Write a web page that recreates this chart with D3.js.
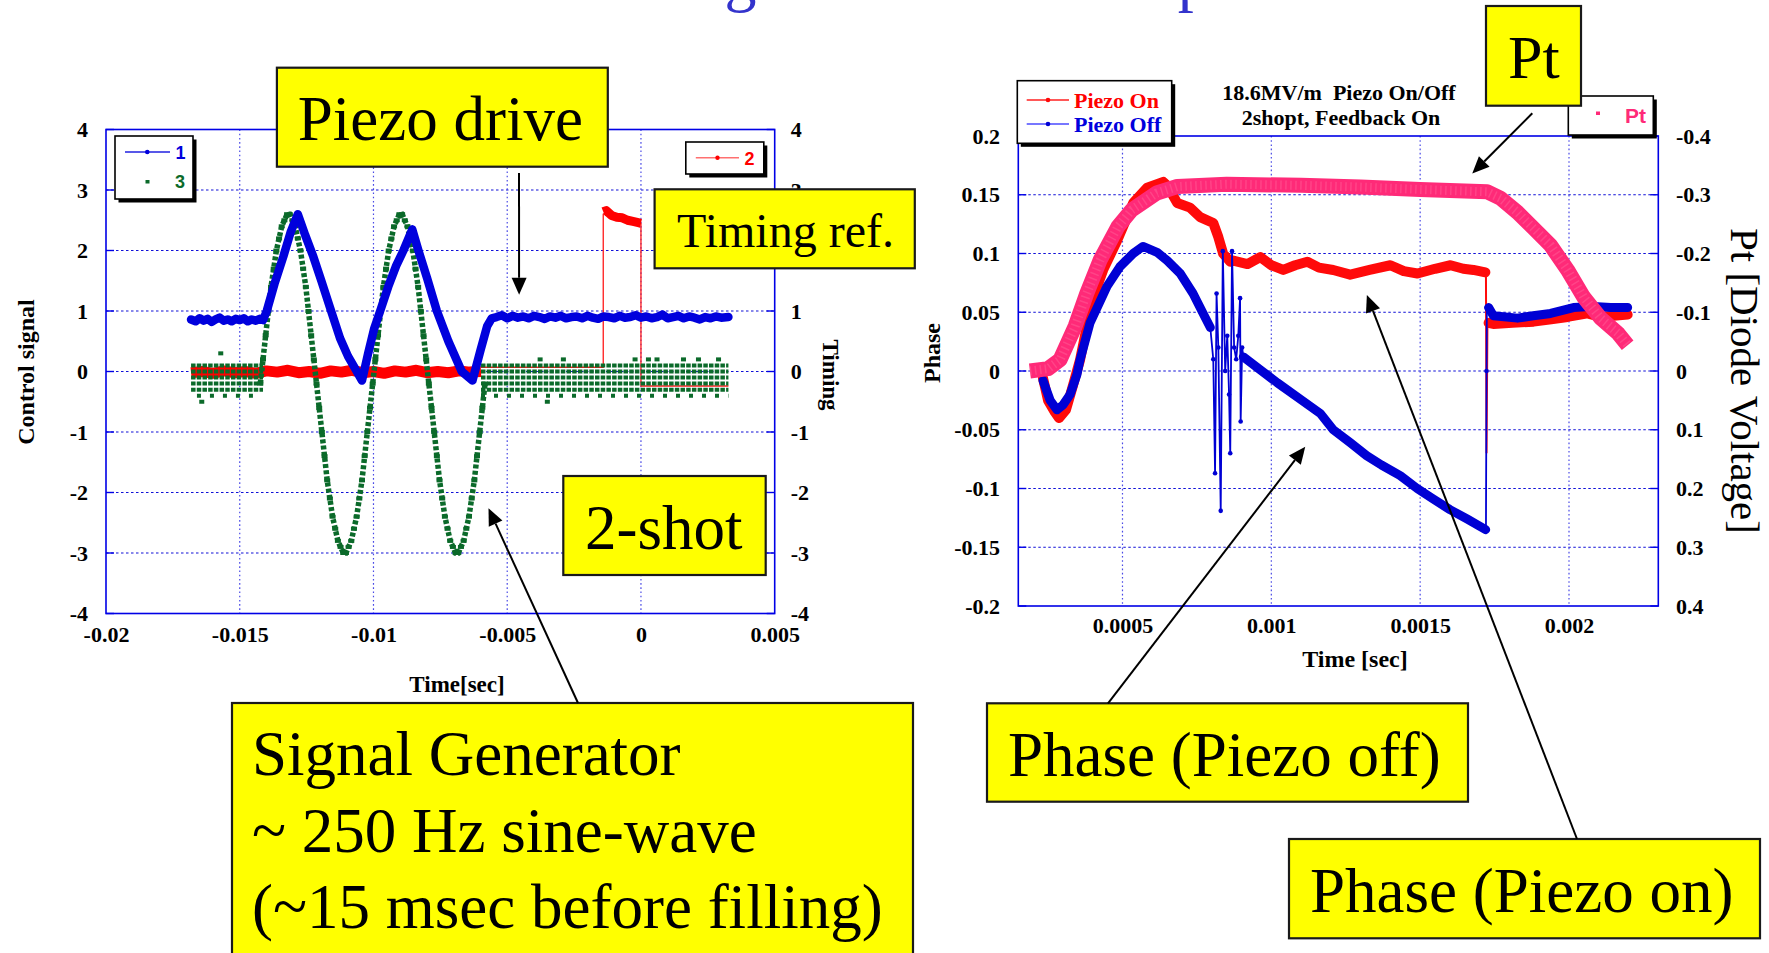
<!DOCTYPE html>
<html>
<head>
<meta charset="utf-8">
<script src="https://cdn.jsdelivr.net/npm/d3@7"></script>
<style>
  html, body { margin: 0; padding: 0; background: #ffffff; }
  svg { display: block; }
</style>
</head>
<body>
<svg id="fig" width="1769" height="953"></svg>
<script>
// ---------------- Left panel: control signals [V] vs time [s] ----------------
const leftXTicks = [-0.02, -0.015, -0.01, -0.005, 0, 0.005];
const leftXLabels = ["-0.02", "-0.015", "-0.01", "-0.005", "0", "0.005"];
const leftYTicks = [4, 3, 2, 1, 0, -1, -2, -3, -4];
const leftYLabels = ["4", "3", "2", "1", "0", "-1", "-2", "-3", "-4"];

// channel 1: piezo drive
const driveSignal = [
  [-0.01682, 0.86], [-0.01665, 0.83], [-0.0165, 0.88], [-0.01635, 0.84], [-0.0162, 0.87],
  [-0.01605, 0.82], [-0.0159, 0.86], [-0.01575, 0.89], [-0.0156, 0.84], [-0.01545, 0.86],
  [-0.0153, 0.83], [-0.01515, 0.87], [-0.015, 0.85], [-0.01485, 0.88], [-0.0147, 0.83],
  [-0.01455, 0.86], [-0.0144, 0.84], [-0.01425, 0.87], [-0.01413, 0.85],
  [-0.01399, 1.0], [-0.0137, 1.45], [-0.01337, 1.9], [-0.0131, 2.3], [-0.01283, 2.6],
  [-0.01255, 2.25], [-0.01225, 1.9], [-0.01195, 1.5], [-0.01162, 1.05], [-0.01125, 0.55],
  [-0.01095, 0.25], [-0.01069, 0.05], [-0.01043, -0.15],
  [-0.0102, 0.3], [-0.00998, 0.7], [-0.00975, 1.0], [-0.00945, 1.4], [-0.00915, 1.75],
  [-0.00888, 2.0], [-0.00855, 2.35],
  [-0.00832, 2.0], [-0.008, 1.55], [-0.00763, 1.0], [-0.0072, 0.5], [-0.0067, 0.0], [-0.0063, -0.15],
  [-0.006, 0.35], [-0.00575, 0.75], [-0.00558, 0.88],
  [-0.0054, 0.9], [-0.0052, 0.93], [-0.005, 0.88], [-0.0048, 0.92], [-0.0046, 0.89],
  [-0.0044, 0.91], [-0.0042, 0.88], [-0.004, 0.92], [-0.0038, 0.9], [-0.0036, 0.87],
  [-0.0034, 0.91], [-0.0032, 0.89], [-0.003, 0.92], [-0.0028, 0.88], [-0.0026, 0.9],
  [-0.0024, 0.91], [-0.0022, 0.88], [-0.002, 0.92], [-0.0018, 0.89], [-0.0016, 0.87],
  [-0.0014, 0.91], [-0.0012, 0.9], [-0.001, 0.88], [-0.0008, 0.92], [-0.0006, 0.89],
  [-0.0004, 0.9], [-0.0002, 0.93], [0, 0.89], [0.0002, 0.91], [0.0004, 0.88],
  [0.0006, 0.9], [0.0008, 0.94], [0.001, 0.88], [0.0012, 0.9], [0.0014, 0.92],
  [0.0016, 0.88], [0.0018, 0.91], [0.002, 0.89], [0.0022, 0.86], [0.0024, 0.9],
  [0.0026, 0.88], [0.0028, 0.91], [0.003, 0.89], [0.00327, 0.9]
];

// channel 2: timing reference (right axis) - noisy baseline, then trigger pulse
const timingBaseline = [
  [-0.01682, -0.02], [-0.0164, 0.0], [-0.016, -0.03], [-0.0156, 0.01], [-0.0152, -0.02],
  [-0.0148, 0.0], [-0.0144, -0.03], [-0.014, 0.01], [-0.0136, -0.01], [-0.0132, 0.02],
  [-0.0128, -0.02], [-0.0124, 0.0], [-0.012, -0.03], [-0.0116, 0.01], [-0.0112, -0.01],
  [-0.0108, 0.02], [-0.0104, -0.02], [-0.01, 0.0], [-0.0096, -0.03], [-0.0092, 0.01],
  [-0.0088, -0.01], [-0.0084, 0.02], [-0.008, -0.02], [-0.0076, 0.0], [-0.0072, -0.02],
  [-0.0068, 0.01], [-0.0064, -0.01], [-0.00598, 0.0]
];
const timingPulse = [
  [-0.00141, 2.64], [-0.0013, 2.66], [-0.0011, 2.58], [-0.0009, 2.55], [-0.0007, 2.54],
  [-0.0005, 2.5], [-0.0003, 2.48], [-0.0001, 2.46], [0.0, 2.45]
];
const timingEdges = [
  [-0.00598, 0.07], [-0.00141, 0.07], [-0.00141, 2.6], [-0.0013, 2.62],
  [-0.0001, 2.46], [0.0, 2.45], [0.0, -0.24], [0.00327, -0.24]
];

// channel 3: signal generator (~250 Hz burst), sampled every 0.1 ms
const generatorWave = [
  [-0.01423, -0.2], [-0.01413, 0.2], [-0.01403, 0.6], [-0.01393, 1.0], [-0.01383, 1.4],
  [-0.01373, 1.7], [-0.01363, 2.0], [-0.01353, 2.2], [-0.01343, 2.4], [-0.01333, 2.5],
  [-0.01323, 2.6], [-0.01313, 2.6], [-0.01303, 2.5], [-0.01293, 2.4], [-0.01283, 2.2],
  [-0.01273, 2.0], [-0.01263, 1.7], [-0.01253, 1.4], [-0.01243, 1.0], [-0.01233, 0.6],
  [-0.01223, 0.2], [-0.01213, -0.2], [-0.01203, -0.6], [-0.01193, -1.0], [-0.01183, -1.4],
  [-0.01173, -1.8], [-0.01163, -2.1], [-0.01153, -2.4], [-0.01143, -2.6], [-0.01133, -2.8],
  [-0.01123, -2.9], [-0.01113, -3.0], [-0.01103, -3.0], [-0.01093, -2.9], [-0.01083, -2.8],
  [-0.01073, -2.6], [-0.01063, -2.4], [-0.01053, -2.1], [-0.01043, -1.8], [-0.01033, -1.4],
  [-0.01023, -1.0], [-0.01013, -0.6], [-0.01003, -0.2], [-0.00993, 0.2], [-0.00983, 0.6],
  [-0.00973, 1.0], [-0.00963, 1.4], [-0.00953, 1.7], [-0.00943, 2.0], [-0.00933, 2.2],
  [-0.00923, 2.4], [-0.00913, 2.5], [-0.00903, 2.6], [-0.00893, 2.6], [-0.00883, 2.5],
  [-0.00873, 2.4], [-0.00863, 2.2], [-0.00853, 2.0], [-0.00843, 1.7], [-0.00833, 1.4],
  [-0.00823, 1.0], [-0.00813, 0.6], [-0.00803, 0.2], [-0.00793, -0.2], [-0.00783, -0.6],
  [-0.00773, -1.0], [-0.00763, -1.4], [-0.00753, -1.8], [-0.00743, -2.1], [-0.00733, -2.4],
  [-0.00723, -2.6], [-0.00713, -2.8], [-0.00703, -2.9], [-0.00693, -3.0], [-0.00683, -3.0],
  [-0.00673, -2.9], [-0.00663, -2.8], [-0.00653, -2.6], [-0.00643, -2.4], [-0.00633, -2.1],
  [-0.00623, -1.8], [-0.00613, -1.4], [-0.00603, -1.0], [-0.00593, -0.6], [-0.00583, -0.2]
];
// channel 3 digitised noise before and after the burst: [level, t start, t end]
const generatorRowsDense = [
  [0.1, -0.01682, -0.01413], [0.0, -0.01682, -0.01413], [-0.1, -0.01682, -0.01413],
  [-0.2, -0.01682, -0.01413], [-0.3, -0.01682, -0.01413],
  [0.1, -0.00598, 0.00327], [0.0, -0.00598, 0.00327], [-0.1, -0.00598, 0.00327],
  [-0.2, -0.00598, 0.00327], [-0.3, -0.00598, 0.00327]
];
const generatorRowsSparse = [
  [-0.4, -0.0166, -0.0145], [-0.4, -0.00598, 0.00327]
];
const generatorStray = [
  [-0.01571, 0.3], [-0.01642, -0.5], [-0.0035, -0.5],
  [-0.00377, 0.2], [-0.0029, 0.2], [-0.00022, 0.2], [0.00028, 0.2],
  [0.0006, 0.2], [0.00159, 0.2], [0.00215, 0.2], [0.0029, 0.2]
];

// ---------------- Right panel: phase / Pt vs time [s] ----------------
const rightXTicks = [0.0005, 0.001, 0.0015, 0.002];
const rightXLabels = ["0.0005", "0.001", "0.0015", "0.002"];
const phaseTicks = [0.2, 0.15, 0.1, 0.05, 0, -0.05, -0.1, -0.15, -0.2];
const phaseLabels = ["0.2", "0.15", "0.1", "0.05", "0", "-0.05", "-0.1", "-0.15", "-0.2"];
const ptTicks = [-0.4, -0.3, -0.2, -0.1, 0, 0.1, 0.2, 0.3, 0.4];
const ptLabels = ["-0.4", "-0.3", "-0.2", "-0.1", "0", "0.1", "0.2", "0.3", "0.4"];

const phaseOn = [
  [0.000233, -0.006], [0.00025, -0.025], [0.000273, -0.035], [0.000287, -0.04], [0.00031, -0.033],
  [0.000334, -0.012], [0.000357, 0.009], [0.000398, 0.06], [0.000435, 0.086], [0.000482, 0.111],
  [0.000536, 0.143], [0.000583, 0.156], [0.000637, 0.161], [0.00065, 0.158], [0.000684, 0.143],
  [0.000727, 0.139], [0.000761, 0.131], [0.000805, 0.126], [0.000822, 0.114], [0.000838, 0.1],
  [0.000862, 0.093], [0.000872, 0.094], [0.00092, 0.091], [0.000963, 0.097], [0.001, 0.09],
  [0.00104, 0.086], [0.00108, 0.09], [0.001121, 0.093], [0.00116, 0.088], [0.001208, 0.086],
  [0.001265, 0.082], [0.00133, 0.086], [0.0014, 0.09], [0.001445, 0.085], [0.001491, 0.083],
  [0.00155, 0.087], [0.001602, 0.09], [0.001645, 0.087], [0.001679, 0.086], [0.001719, 0.084]
];
const phaseOnJump = [[0.001721, 0.084], [0.001723, -0.07], [0.001726, 0.041]];
const phaseOnTail = [
  [0.00173, 0.041], [0.001746, 0.04], [0.00181, 0.041], [0.001881, 0.042], [0.00194, 0.044],
  [0.001995, 0.046], [0.002062, 0.049], [0.002106, 0.046], [0.00215, 0.047], [0.002197, 0.048]
];

const phaseOff = [
  [0.000233, -0.008], [0.000257, -0.025], [0.00028, -0.033], [0.0003, -0.029], [0.000324, -0.02],
  [0.000347, -0.003], [0.000357, 0.009], [0.000391, 0.041], [0.000448, 0.072], [0.000492, 0.089],
  [0.000536, 0.1], [0.000569, 0.106], [0.000616, 0.101], [0.00065, 0.094], [0.000694, 0.083],
  [0.000737, 0.066], [0.000771, 0.049], [0.000795, 0.037]
];
const phaseOffSpikes = [
  [0.000795, 0.037], [0.000805, 0.01], [0.000811, -0.087], [0.000816, 0.066], [0.000822, 0.02],
  [0.00083, -0.119], [0.000837, 0.102], [0.000845, 0.0], [0.000852, 0.03], [0.000858, -0.02],
  [0.000862, -0.07], [0.000868, 0.102], [0.000875, 0.02], [0.000882, 0.01], [0.000889, 0.03],
  [0.000895, 0.062], [0.000897, -0.043], [0.000902, 0.02], [0.000906, 0.012]
];
const phaseOffDecay = [
  [0.000906, 0.012], [0.000963, 0.001], [0.00102, -0.01], [0.001097, -0.024], [0.001164, -0.036],
  [0.001208, -0.05], [0.001265, -0.061], [0.00132, -0.072], [0.00137, -0.08], [0.001433, -0.089],
  [0.00149, -0.1], [0.001544, -0.109], [0.0016, -0.118], [0.001658, -0.126], [0.00172, -0.135]
];
const phaseOffJump = [[0.001721, -0.135], [0.001723, 0.0], [0.001724, 0.054]];
const phaseOffTail = [
  [0.00173, 0.054], [0.001746, 0.047], [0.001827, 0.045], [0.00188, 0.047], [0.001938, 0.049],
  [0.002015, 0.054], [0.002082, 0.055], [0.00214, 0.054], [0.002197, 0.054]
];

// transmitted power Pt (right axis, inverted)
const ptSignal = [
  [0.000189, 0.0], [0.00025, -0.004], [0.00029, -0.019], [0.000341, -0.076], [0.00038, -0.132],
  [0.000425, -0.189], [0.000485, -0.246], [0.000531, -0.274], [0.000615, -0.303], [0.000684, -0.314],
  [0.00085, -0.318], [0.0011, -0.316], [0.0013, -0.313], [0.0015, -0.309], [0.001725, -0.305],
  [0.00177, -0.294], [0.001827, -0.27], [0.001881, -0.243], [0.001938, -0.214], [0.001995, -0.172],
  [0.002049, -0.126], [0.002106, -0.09], [0.002163, -0.065], [0.002197, -0.044]
];

// ---------------- drawing ----------------
const svg = d3.select("#fig");
const SERIF = "'Liberation Serif', 'Times New Roman', serif";
const SANS = "'Liberation Sans', Arial, sans-serif";
const FRAME = "#0000e6";

const xL = d3.scaleLinear().domain([-0.02, 0.005]).range([106, 774.7]);
const yL = d3.scaleLinear().domain([-4, 4]).range([613.5, 129.5]);
const xR = d3.scaleLinear().domain([0.00015, 0.0023]).range([1018.3, 1658.3]);
const yPh = d3.scaleLinear().domain([-0.2, 0.2]).range([606, 136]);
const yPt = d3.scaleLinear().domain([-0.4, 0.4]).range([136, 606]);

// page title (runs off the top edge)
svg.append("text")
  .attr("x", 305).attr("y", -1)
  .attr("font-family", SERIF).attr("font-size", 64)
  .attr("fill", "#3333cc")
  .text("The 2-shot voltage and Piezo compensation");

function frameAndGrid(g, xs, ys, xTicks, yTicks) {
  const [x0, x1] = xs.range();
  const [yb, yt] = ys.range();
  const top = Math.min(yb, yt), bot = Math.max(yb, yt);
  g.append("g").selectAll("line").data(yTicks.slice(1, -1)).join("line")
    .attr("x1", x0).attr("x2", x1)
    .attr("y1", d => ys(d)).attr("y2", d => ys(d))
    .attr("stroke", "#1010d8").attr("stroke-width", 1.2)
    .attr("stroke-dasharray", "2.5,2.5");
  g.append("g").selectAll("line").data(xTicks.slice(1, -1)).join("line")
    .attr("x1", d => xs(d)).attr("x2", d => xs(d))
    .attr("y1", top).attr("y2", bot)
    .attr("stroke", "#4a4ae6").attr("stroke-width", 1.2)
    .attr("stroke-dasharray", "1.6,2.6");
  g.append("rect")
    .attr("x", x0).attr("y", top).attr("width", x1 - x0).attr("height", bot - top)
    .attr("fill", "none").attr("stroke", FRAME).attr("stroke-width", 1.6);
  // inside tick marks on both vertical axes
  g.append("g").selectAll("line").data(yTicks).join("line")
    .attr("x1", x0).attr("x2", x0 + 8).attr("y1", d => ys(d)).attr("y2", d => ys(d))
    .attr("stroke", FRAME).attr("stroke-width", 1.4);
  g.append("g").selectAll("line").data(yTicks).join("line")
    .attr("x1", x1 - 8).attr("x2", x1).attr("y1", d => ys(d)).attr("y2", d => ys(d))
    .attr("stroke", FRAME).attr("stroke-width", 1.4);
}

function styleAxis(sel) {
  sel.select(".domain").remove();
  sel.selectAll(".tick line").remove();
  sel.attr("font-family", SERIF).attr("font-size", 22).attr("font-weight", "bold");
  sel.selectAll("text").attr("fill", "#000");
}

// ===== left panel =====
const gL = svg.append("g");
frameAndGrid(gL, xL, yL, leftXTicks, leftYTicks);

gL.append("g").attr("transform", `translate(${xL.range()[0]},0)`)
  .call(d3.axisLeft(yL).tickValues(leftYTicks).tickFormat((d, i) => leftYLabels[i]).tickSize(0).tickPadding(18))
  .call(styleAxis);
gL.append("g").attr("transform", `translate(${xL.range()[1]},0)`)
  .call(d3.axisRight(yL).tickValues(leftYTicks).tickFormat((d, i) => leftYLabels[i]).tickSize(0).tickPadding(16))
  .call(styleAxis);
gL.append("g").attr("transform", `translate(0,${yL.range()[0]})`)
  .call(d3.axisBottom(xL).tickValues(leftXTicks).tickFormat((d, i) => leftXLabels[i]).tickSize(0).tickPadding(12.5))
  .call(styleAxis);

const lineL = d3.line().x(d => xL(d[0])).y(d => yL(d[1]));

// channel 2 baseline band and trigger edges (under channel 3)
gL.append("path").attr("d", lineL(timingBaseline))
  .attr("fill", "none").attr("stroke", "#ff0000").attr("stroke-width", 11)
  .attr("stroke-linejoin", "round");
gL.append("path").attr("d", lineL(timingEdges))
  .attr("fill", "none").attr("stroke", "#ff1a1a").attr("stroke-width", 1.3);

// channel 3 noise rows
const GREEN = "#0b6a2a";
gL.append("g").selectAll("line").data(generatorRowsDense).join("line")
  .attr("x1", d => xL(d[1])).attr("x2", d => xL(d[2]))
  .attr("y1", d => yL(d[0])).attr("y2", d => yL(d[0]))
  .attr("stroke", GREEN).attr("stroke-width", 4).attr("stroke-dasharray", "4.5,1.2");
gL.append("g").selectAll("line").data(generatorRowsSparse).join("line")
  .attr("x1", d => xL(d[1])).attr("x2", d => xL(d[2]))
  .attr("y1", d => yL(d[0])).attr("y2", d => yL(d[0]))
  .attr("stroke", GREEN).attr("stroke-width", 4).attr("stroke-dasharray", "4,9");
gL.append("g").selectAll("rect").data(generatorStray).join("rect")
  .attr("x", d => xL(d[0]) - 2.5).attr("y", d => yL(d[1]) - 2)
  .attr("width", 5).attr("height", 4).attr("fill", GREEN);

// channel 3 burst
gL.append("path").attr("d", lineL(generatorWave))
  .attr("fill", "none").attr("stroke", GREEN).attr("stroke-width", 5.5)
  .attr("stroke-dasharray", "4,2.2");
gL.append("g").selectAll("rect").data(generatorWave).join("rect")
  .attr("x", d => xL(d[0]) - 3).attr("y", d => yL(d[1]) - 2)
  .attr("width", 6).attr("height", 4).attr("fill", GREEN);

// channel 2 pulse top
gL.append("path").attr("d", lineL(timingPulse))
  .attr("fill", "none").attr("stroke", "#ff0000").attr("stroke-width", 9)
  .attr("stroke-linejoin", "round");

// channel 1 piezo drive
gL.append("path").attr("d", lineL(driveSignal))
  .attr("fill", "none").attr("stroke", "#0000dd").attr("stroke-width", 8.5)
  .attr("stroke-linejoin", "round").attr("stroke-linecap", "round");

// axis titles
gL.append("text").attr("transform", "translate(26,372) rotate(-90)")
  .attr("text-anchor", "middle").attr("dy", "0.35em")
  .attr("font-family", SERIF).attr("font-size", 24).attr("font-weight", "bold")
  .text("Control signal");
gL.append("text").attr("transform", "translate(831,375) rotate(90)")
  .attr("text-anchor", "middle").attr("dy", "0.35em")
  .attr("font-family", SERIF).attr("font-size", 23).attr("font-weight", "bold")
  .text("Timing");
gL.append("text").attr("x", 457).attr("y", 692)
  .attr("text-anchor", "middle")
  .attr("font-family", SERIF).attr("font-size", 23).attr("font-weight", "bold")
  .text("Time[sec]");

function legendBox(g, x, y, w, h) {
  g.append("rect").attr("x", x + 3.5).attr("y", y + 3.5).attr("width", w).attr("height", h).attr("fill", "#000");
  g.append("rect").attr("x", x).attr("y", y).attr("width", w).attr("height", h)
    .attr("fill", "#fff").attr("stroke", "#000").attr("stroke-width", 1.6);
}

// legends of the left panel
const lg1 = gL.append("g");
legendBox(lg1, 115, 136, 78, 63);
lg1.append("line").attr("x1", 125).attr("x2", 170).attr("y1", 152).attr("y2", 152)
  .attr("stroke", "#2020e0").attr("stroke-width", 1.4);
lg1.append("circle").attr("cx", 147.3).attr("cy", 152).attr("r", 2.3).attr("fill", "#0000dd");
lg1.append("text").attr("x", 175.5).attr("y", 159.3)
  .attr("font-family", SANS).attr("font-size", 18).attr("font-weight", "bold")
  .attr("fill", "#0000dd").text("1");
lg1.append("rect").attr("x", 145.5).attr("y", 180).attr("width", 4).attr("height", 3.5).attr("fill", GREEN);
lg1.append("text").attr("x", 175).attr("y", 188.3)
  .attr("font-family", SANS).attr("font-size", 18).attr("font-weight", "bold")
  .attr("fill", GREEN).text("3");

const lg2 = gL.append("g");
legendBox(lg2, 685.8, 142, 78, 32);
lg2.append("line").attr("x1", 695.8).attr("x2", 739).attr("y1", 157.7).attr("y2", 157.7)
  .attr("stroke", "#ff7070").attr("stroke-width", 1.4);
lg2.append("circle").attr("cx", 717.5).attr("cy", 157.7).attr("r", 2.2).attr("fill", "#ff0000");
lg2.append("text").attr("x", 744.4).attr("y", 165)
  .attr("font-family", SANS).attr("font-size", 18).attr("font-weight", "bold")
  .attr("fill", "#ff0000").text("2");

// ===== right panel =====
const gR = svg.append("g");
frameAndGrid(gR, xR, yPh, [0.00015, ...rightXTicks, 0.0023], phaseTicks);

gR.append("g").attr("transform", `translate(${xR.range()[0]},0)`)
  .call(d3.axisLeft(yPh).tickValues(phaseTicks).tickFormat((d, i) => phaseLabels[i]).tickSize(0).tickPadding(18.3))
  .call(styleAxis);
gR.append("g").attr("transform", `translate(${xR.range()[1]},0)`)
  .call(d3.axisRight(yPt).tickValues(ptTicks).tickFormat((d, i) => ptLabels[i]).tickSize(0).tickPadding(17.7))
  .call(styleAxis);
gR.append("g").attr("transform", `translate(0,${yPh.range()[0]})`)
  .call(d3.axisBottom(xR).tickValues(rightXTicks).tickFormat((d, i) => rightXLabels[i]).tickSize(0).tickPadding(11.4))
  .call(styleAxis);

const linePh = d3.line().x(d => xR(d[0])).y(d => yPh(d[1]));
const linePt = d3.line().x(d => xR(d[0])).y(d => yPt(d[1]));

const RED = "#ff0a0a", BLUE = "#0000d4", PINK = "#ff2a78";

// Piezo On
[phaseOn, phaseOnTail].forEach(s => {
  gR.append("path").attr("d", linePh(s)).attr("fill", "none")
    .attr("stroke", RED).attr("stroke-width", 10)
    .attr("stroke-linejoin", "round").attr("stroke-linecap", "round");
});
gR.append("path").attr("d", linePh(phaseOnJump)).attr("fill", "none")
  .attr("stroke", RED).attr("stroke-width", 2);

// Piezo Off
[phaseOff, phaseOffDecay, phaseOffTail].forEach(s => {
  gR.append("path").attr("d", linePh(s)).attr("fill", "none")
    .attr("stroke", BLUE).attr("stroke-width", 9)
    .attr("stroke-linejoin", "round").attr("stroke-linecap", "round");
});
[phaseOffSpikes, phaseOffJump].forEach(s => {
  gR.append("path").attr("d", linePh(s)).attr("fill", "none")
    .attr("stroke", BLUE).attr("stroke-width", 1.8);
  gR.append("g").selectAll("circle").data(s).join("circle")
    .attr("cx", d => xR(d[0])).attr("cy", d => yPh(d[1])).attr("r", 2.3).attr("fill", BLUE);
});

// Pt
gR.append("path").attr("d", linePt(ptSignal)).attr("fill", "none")
  .attr("stroke", PINK).attr("stroke-width", 15)
  .attr("stroke-linejoin", "round").attr("stroke-linecap", "butt");
gR.append("path").attr("d", linePt(ptSignal)).attr("fill", "none")
  .attr("stroke", "#ff80ad").attr("stroke-width", 9).attr("stroke-opacity", 0.3)
  .attr("stroke-dasharray", "1.5,3.5");

// titles
gR.append("text").attr("transform", "translate(932,353) rotate(-90)")
  .attr("text-anchor", "middle").attr("dy", "0.35em")
  .attr("font-family", SERIF).attr("font-size", 24).attr("font-weight", "bold")
  .text("Phase");
gR.append("text").attr("transform", "translate(1745,381) rotate(90)")
  .attr("text-anchor", "middle").attr("dy", "0.35em")
  .attr("font-family", SERIF).attr("font-size", 41)
  .text("Pt [Diode Voltage]");
gR.append("text").attr("x", 1355).attr("y", 667)
  .attr("text-anchor", "middle")
  .attr("font-family", SERIF).attr("font-size", 24).attr("font-weight", "bold")
  .text("Time [sec]");
gR.append("text").attr("x", 1339).attr("y", 100)
  .attr("text-anchor", "middle").style("white-space", "pre")
  .attr("font-family", SERIF).attr("font-size", 22).attr("font-weight", "bold")
  .text("18.6MV/m  Piezo On/Off");
gR.append("text").attr("x", 1341).attr("y", 125)
  .attr("text-anchor", "middle")
  .attr("font-family", SERIF).attr("font-size", 22).attr("font-weight", "bold")
  .text("2shopt, Feedback On");

// legends of the right panel
const lg3 = gR.append("g");
legendBox(lg3, 1017.3, 80.7, 154.4, 62.6);
lg3.append("line").attr("x1", 1026.7).attr("x2", 1069).attr("y1", 100).attr("y2", 100)
  .attr("stroke", "#ff2020").attr("stroke-width", 1.4);
lg3.append("circle").attr("cx", 1048).attr("cy", 100).attr("r", 2.3).attr("fill", RED);
lg3.append("text").attr("x", 1074).attr("y", 107.5)
  .attr("font-family", SERIF).attr("font-size", 22).attr("font-weight", "bold")
  .attr("fill", "#ff0000").text("Piezo On");
lg3.append("line").attr("x1", 1026.7).attr("x2", 1069).attr("y1", 124).attr("y2", 124)
  .attr("stroke", "#4a4aff").attr("stroke-width", 1.4);
lg3.append("circle").attr("cx", 1048).attr("cy", 124).attr("r", 2.3).attr("fill", BLUE);
lg3.append("text").attr("x", 1074).attr("y", 131.5)
  .attr("font-family", SERIF).attr("font-size", 22).attr("font-weight", "bold")
  .attr("fill", "#0000dd").text("Piezo Off");

const lg4 = gR.append("g");
legendBox(lg4, 1568.3, 96, 85, 39);
lg4.append("rect").attr("x", 1596).attr("y", 111.5).attr("width", 4).attr("height", 3.5).attr("fill", PINK);
lg4.append("text").attr("x", 1625).attr("y", 123)
  .attr("font-family", SANS).attr("font-size", 21).attr("font-weight", "bold")
  .attr("fill", PINK).text("Pt");

// ===== call-out boxes and arrows =====
const gA = svg.append("g");

function arrow(x1, y1, x2, y2) {
  const a = Math.atan2(y2 - y1, x2 - x1);
  const len = 17, half = 7.5;
  const bx = x2 - len * Math.cos(a), by = y2 - len * Math.sin(a);
  gA.append("line").attr("x1", x1).attr("y1", y1).attr("x2", bx).attr("y2", by)
    .attr("stroke", "#000").attr("stroke-width", 2);
  const p = [
    [x2, y2],
    [bx + half * Math.sin(a), by - half * Math.cos(a)],
    [bx - half * Math.sin(a), by + half * Math.cos(a)]
  ];
  gA.append("polygon").attr("points", p.map(q => q.join(",")).join(" ")).attr("fill", "#000");
}

function callout(x0, y0, x1, y1, lines, tx, baselines, size) {
  gA.append("rect").attr("x", x0).attr("y", y0).attr("width", x1 - x0).attr("height", y1 - y0)
    .attr("fill", "#ffff00").attr("stroke", "#1a1a1a").attr("stroke-width", 2.2);
  lines.forEach((s, i) => {
    gA.append("text").attr("x", tx).attr("y", baselines[i])
      .attr("font-family", SERIF).attr("font-size", size).attr("fill", "#000")
      .text(s);
  });
}

callout(276.9, 67.7, 607.8, 166.7, ["Piezo drive"], 297.7, [140], 63);
arrow(519, 173, xL(-0.004555), yL(1.27));

callout(654.6, 189.3, 914.8, 268.3, ["Timing ref."], 677, [246.7], 48);

callout(563.3, 476, 765.7, 575, ["2-shot"], 585, [549.3], 63);

callout(232, 703, 913, 975,
  ["Signal Generator", "~ 250 Hz sine-wave", "(~15 msec before filling)"],
  252, [775, 851.7, 928], 63);
arrow(578, 703, xL(-0.0057), yL(-2.26));

callout(1486, 6, 1581, 105.7, ["Pt"], 1508, [78.3], 62);
arrow(1532.3, 113.3, xR(0.001675), yPh(0.168));

callout(987, 703.3, 1468, 801.7, ["Phase (Piezo off)"], 1008, [776], 63);
arrow(1108, 703.3, xR(0.001114), yPh(-0.0644));

callout(1289, 839, 1760, 938.3, ["Phase (Piezo on)"], 1310, [911.7], 63);
arrow(1577, 839, xR(0.001321), yPh(0.0647));
</script>
</body>
</html>
